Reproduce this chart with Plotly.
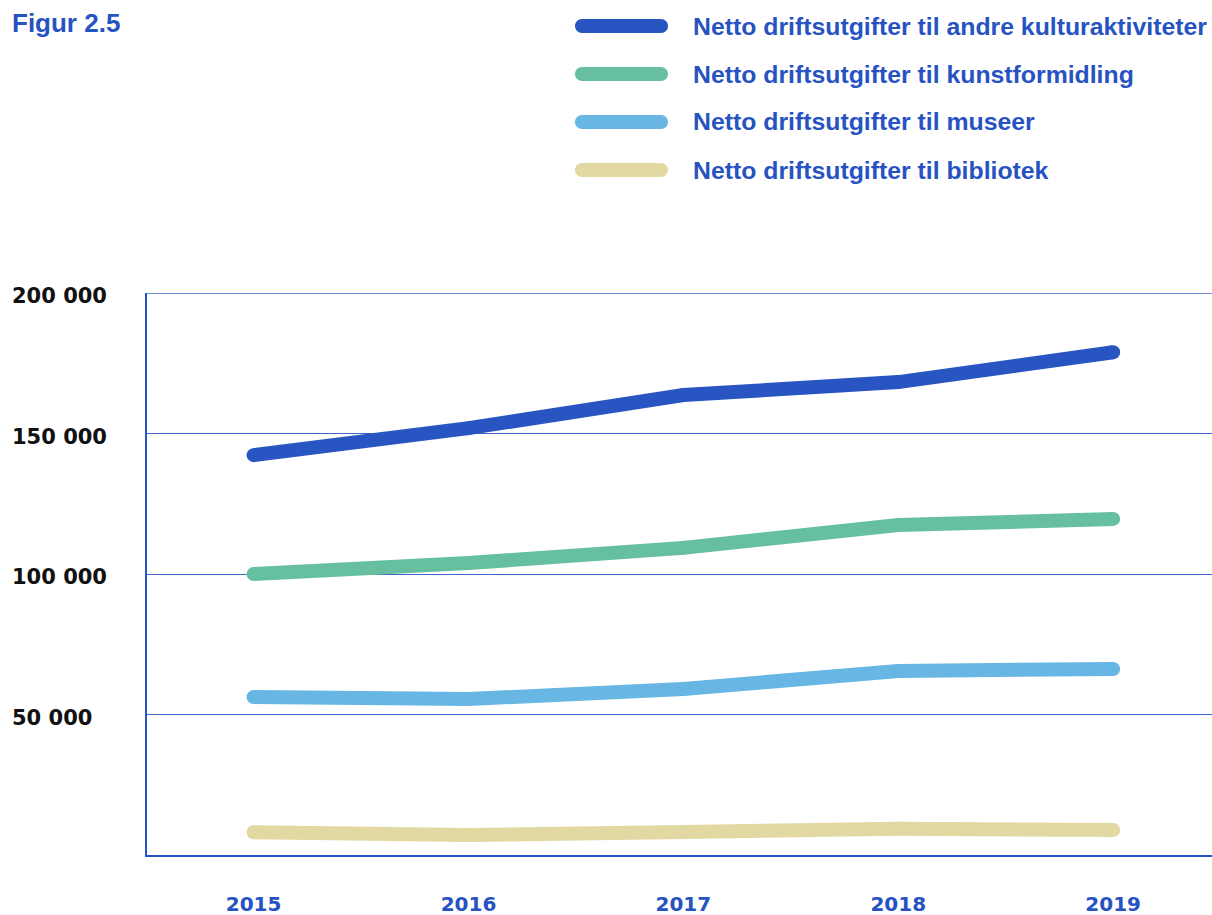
import plotly.graph_objects as go

# Net operating expenditure (NOK 1000) by purpose
years = [2015, 2016, 2017, 2018, 2019]
andre_kultur = [142300, 151900, 163700, 168300, 178900]
kunstformidling = [100000, 103900, 109300, 117400, 119600]
museer = [56200, 55500, 59100, 65500, 66200]
bibliotek = [8100, 7100, 8200, 9300, 8900]

series_names = [
    "Netto driftsutgifter til andre kulturaktiviteter",
    "Netto driftsutgifter til kunstformidling",
    "Netto driftsutgifter til museer",
    "Netto driftsutgifter til bibliotek",
]
series_values = [andre_kultur, kunstformidling, museer, bibliotek]
series_colors = ["#2855C2", "#66C0A0", "#67B6E3", "#E1D8A2"]

ytick_vals = [50000, 100000, 150000, 200000]
ytick_text = ["50 000", "100 000", "150 000", "200 000"]
title_text = "Figur 2.5"

BLUE = "#2653C1"
GRID = "#3F66C8"
W, H = 1212, 915
ML, MR, MT, MB = 147, 0, 293, 60
PW, PH = W - ML - MR, H - MT - MB


def px_x(px):
    return (px - ML) / PW


def px_y(py):
    return (H - MB - py) / PH


fig = go.Figure()

for name, vals, color in zip(series_names, series_values, series_colors):
    fig.add_trace(go.Scatter(
        x=years, y=vals, name=name, mode="lines+markers",
        line=dict(color=color, width=14),
        marker=dict(color=color, size=14, line=dict(width=0)),
        showlegend=False, hoverinfo="x+y",
    ))

annotations = []
shapes = []

# title
annotations.append(dict(
    text=title_text, xref="paper", yref="paper", x=px_x(10), y=px_y(23),
    xanchor="left", yanchor="middle", showarrow=False,
    font=dict(family="Liberation Sans", size=26, color=BLUE, weight="bold"),
))

# legend: rounded strokes with labels
cap = 3.87
for i, (name, color) in enumerate(zip(series_names, series_colors)):
    cy = 26 + 48 * i
    path = (
        f"M 0,-7 L 79,-7 C {79 + cap},-7 86,{-cap} 86,0 C 86,{cap} {79 + cap},7 79,7 "
        f"L 0,7 C {-cap},7 -7,{cap} -7,0 C -7,{-cap} {-cap},-7 0,-7 Z"
    )
    shapes.append(dict(
        type="path", xref="paper", yref="paper",
        xsizemode="pixel", ysizemode="pixel",
        xanchor=px_x(582), yanchor=px_y(cy), path=path,
        fillcolor=color, line=dict(width=0), layer="above",
    ))
    annotations.append(dict(
        text=name, xref="paper", yref="paper", x=px_x(691), y=px_y(cy),
        xanchor="left", yanchor="middle", showarrow=False,
        font=dict(family="Liberation Sans", size=24.8, color=BLUE, weight="bold"),
    ))

# top gridline at the upper range limit
shapes.append(dict(
    type="line", xref="paper", yref="y", x0=0, x1=1, y0=200000, y1=200000,
    line=dict(color=GRID, width=1.5), layer="below",
))

# left-aligned y tick labels
for v, t in zip(ytick_vals, ytick_text):
    annotations.append(dict(
        text=t, xref="paper", yref="y", x=px_x(10), y=v, yshift=-3,
        xanchor="left", yanchor="middle", showarrow=False,
        font=dict(family="DejaVu Sans", size=21, color="#111111", weight="bold"),
    ))

fig.update_layout(
    width=W, height=H,
    margin=dict(l=ML, r=MR, t=MT, b=MB, pad=0),
    paper_bgcolor="white", plot_bgcolor="white",
    showlegend=False,
    annotations=annotations, shapes=shapes,
    xaxis=dict(
        range=[2014.504, 2019.46], tickvals=years, ticktext=[str(y) for y in years],
        showgrid=False, zeroline=False, showline=True, linecolor="#2553C6", linewidth=2,
        ticks="", ticklabelstandoff=30, automargin=False,
        tickfont=dict(family="DejaVu Sans", size=20, color=BLUE, weight="bold"),
    ),
    yaxis=dict(
        range=[0, 200000], tickvals=ytick_vals, showticklabels=False,
        showgrid=True, gridcolor=GRID, gridwidth=1.2, zeroline=False,
        showline=True, linecolor="#2553C6", linewidth=2, ticks="", automargin=False,
    ),
)

fig.write_html("out.html")
